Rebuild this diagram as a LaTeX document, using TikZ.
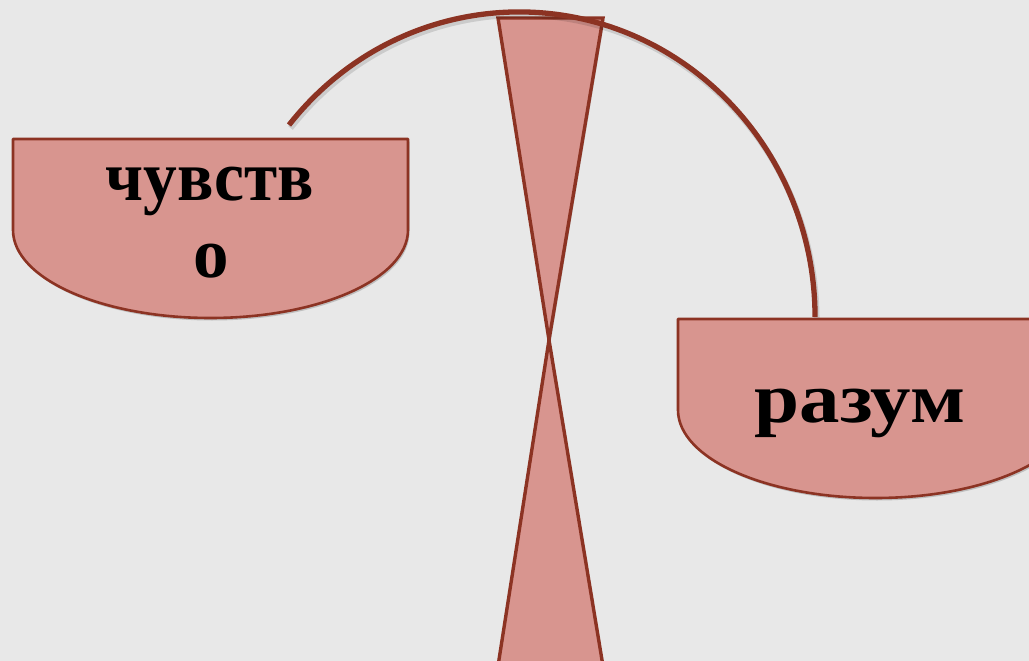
\documentclass[tikz,border=0pt]{standalone}
\usepackage{fontspec}
\setmainfont{Liberation Serif}
\usetikzlibrary{shadows}
\definecolor{bg}{HTML}{E8E8E8}
\definecolor{pan}{HTML}{D8958F}
\definecolor{rim}{HTML}{8C3323}
\begin{document}
\begin{tikzpicture}[x=1pt,y=1pt,
  softshadow/.style={drop shadow={opacity=0.18,shadow xshift=1.5pt,shadow yshift=-2.5pt,fill=black}},
  panshape/.style={fill=pan,draw=rim,line width=2.6pt,line join=round,softshadow},
  glass/.style={fill=pan,draw=rim,line width=3.4pt,line join=miter,softshadow},
  beam/.style={draw=rim,line width=5.3pt},
  beamshadow/.style={draw=black,opacity=0.12,line width=6pt},
  label/.style={font=\bfseries\fontsize{71}{77}\selectfont,text=black,inner sep=0pt,anchor=base}]
\useasboundingbox (0,0) rectangle (1029,-661);
\clip (0,0) rectangle (1029,-661);
\fill[bg] (0,0) rectangle (1029,-661);
% hourglass stand
\path[glass] (498,-18) -- (603,-18) -- (549,-340) -- cycle;
\path[glass] (549,-340) -- (603,-666) -- (498,-666) -- cycle;
% beam
\draw[beamshadow] (290.5,-128) arc[start angle=141,end angle=0,x radius=296,y radius=305];
\draw[beam] (289,-125) arc[start angle=141,end angle=0,x radius=296,y radius=305];
% pans
\path[panshape] (13,-139) -- (408,-139) -- (408,-230)
  arc[start angle=0,end angle=-180,x radius=197.5,y radius=88] -- cycle;
\path[panshape] (678,-319) -- (1073,-319) -- (1073,-410)
  arc[start angle=0,end angle=-180,x radius=197.5,y radius=88] -- cycle;
% labels
\node[label,xscale=0.95] (feel1) at (210,-200) {чувств};
\node[label] (feel2) at (211,-277) {о};
\node[label,xscale=1.14] (mind) at (860,-422) {разум};
\end{tikzpicture}
\end{document}
